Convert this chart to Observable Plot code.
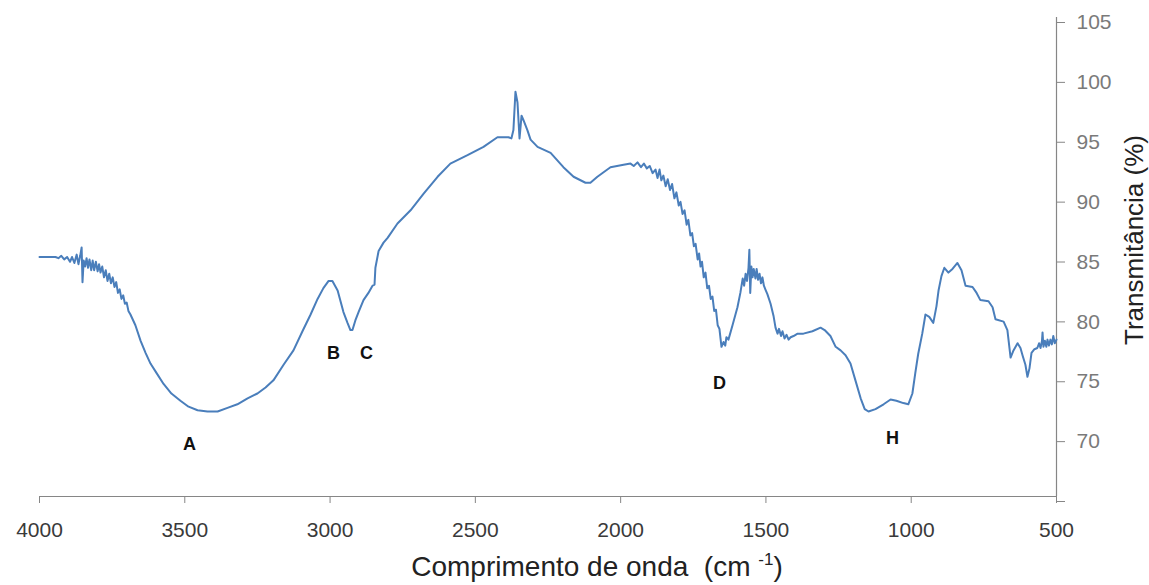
<!DOCTYPE html>
<html>
<head>
<meta charset="utf-8">
<script src="https://cdn.jsdelivr.net/npm/d3@7"></script>
<script src="https://cdn.jsdelivr.net/npm/@observablehq/plot@0.6"></script>
<style>
  html, body { margin: 0; padding: 0; background: #fff; }
  #chart svg { display: block; }
</style>
</head>
<body>
<div id="chart"></div>
<script>
// Wavenumber (cm-1) and transmittance (%)
const wavenumber = [
  4000, 3945, 3935, 3925, 3915, 3905, 3895, 3888, 3880, 3872, 3866, 3860, 3855, 3852, 3848, 3843, 3838, 3833, 3828, 3822,
  3817, 3812, 3806, 3800, 3795, 3790, 3784, 3778, 3772, 3766, 3760, 3754, 3748, 3742, 3736, 3730, 3724, 3718, 3712, 3706,
  3700, 3694, 3687, 3670, 3652, 3635, 3618, 3597, 3573, 3546, 3515, 3487, 3456, 3422, 3387, 3353, 3319, 3284, 3250, 3222,
  3195, 3160, 3126, 3095, 3067, 3043, 3023, 3005, 2992, 2974, 2954, 2940, 2930, 2923, 2913, 2902, 2885, 2868, 2854, 2847,
  2844, 2833, 2816, 2802, 2768, 2723, 2678, 2630, 2586, 2527, 2472, 2424, 2386, 2376, 2369, 2362, 2355, 2348, 2341, 2334,
  2321, 2310, 2286, 2241, 2197, 2162, 2121, 2104, 2080, 2035, 1990, 1966, 1955, 1942, 1930, 1920, 1910, 1900, 1890, 1880,
  1873, 1866, 1860, 1853, 1845, 1838, 1830, 1823, 1815, 1808, 1800, 1794, 1787, 1780, 1773, 1767, 1760, 1754, 1748, 1742,
  1735, 1730, 1725, 1720, 1714, 1708, 1702, 1696, 1690, 1684, 1678, 1672, 1666, 1660, 1653, 1646, 1640, 1636, 1629, 1615,
  1598, 1588, 1580, 1575, 1570, 1565, 1560, 1557, 1554, 1550, 1546, 1542, 1536, 1532, 1527, 1522, 1517, 1512, 1507, 1502,
  1495, 1484, 1474, 1467, 1460, 1455, 1448, 1443, 1436, 1429, 1422, 1415, 1405, 1391, 1371, 1340, 1312, 1298, 1278, 1260,
  1243, 1226, 1209, 1192, 1174, 1160, 1147, 1123, 1095, 1071, 1051, 1027, 1010, 996, 986, 976, 962, 951, 938, 924,
  913, 906, 896, 886, 872, 858, 841, 827, 813, 789, 775, 762, 734, 720, 710, 682, 669, 658, 648, 634,
  624, 617, 607, 600, 593, 586, 576, 566, 560, 555, 550, 548, 545, 540, 535, 531, 526, 521, 516, 511,
  506, 500
];
const transmittance = [
  85.0, 85.0, 84.9, 85.1, 84.8, 85.0, 84.6, 85.0, 84.5, 85.2, 84.4, 85.1, 85.8, 82.9, 84.7, 84.2, 84.9, 84.1, 84.8, 83.9,
  84.7, 83.9, 84.6, 83.8, 84.4, 83.7, 84.2, 83.3, 83.9, 83.0, 83.6, 82.8, 83.3, 82.5, 82.9, 82.0, 82.3, 81.5, 81.8, 81.1,
  81.2, 80.5, 80.2, 79.3, 78.0, 77.0, 76.1, 75.3, 74.4, 73.6, 73.0, 72.5, 72.2, 72.1, 72.1, 72.4, 72.7, 73.2, 73.6, 74.1,
  74.7, 76.0, 77.2, 78.8, 80.2, 81.5, 82.4, 83.0, 83.0, 82.2, 80.4, 79.5, 78.9, 78.9, 79.7, 80.4, 81.4, 82.0, 82.6, 82.7,
  84.1, 85.5, 86.2, 86.6, 87.8, 88.9, 90.3, 91.7, 92.8, 93.5, 94.2, 95.0, 95.0, 94.9, 95.6, 98.8, 97.9, 94.9, 96.8, 96.4,
  95.6, 94.8, 94.2, 93.7, 92.5, 91.7, 91.2, 91.2, 91.7, 92.5, 92.7, 92.8, 92.6, 92.9, 92.5, 92.8, 92.4, 92.6, 92.0, 92.3,
  91.6, 92.3, 91.4, 91.8, 90.9, 91.5, 90.6, 91.1, 89.9, 90.4, 89.3, 89.6, 88.6, 88.9, 87.7, 88.1, 86.8, 87.0, 85.9, 86.1,
  84.8, 85.3, 84.2, 84.6, 83.3, 83.7, 82.4, 82.6, 81.5, 81.7, 80.5, 80.6, 79.3, 79.0, 77.5, 77.9, 77.6, 78.3, 78.1, 79.3,
  80.8, 82.0, 83.2, 82.6, 83.6, 83.0, 84.1, 85.6, 82.0, 84.2, 83.3, 84.0, 83.2, 84.0, 83.1, 83.6, 82.8, 83.3, 82.6, 82.3,
  81.9, 81.1, 80.1, 79.1, 78.6, 79.0, 78.4, 78.8, 78.2, 78.5, 78.1, 78.3, 78.4, 78.6, 78.6, 78.8, 79.1, 78.9, 78.4, 77.5,
  77.2, 76.8, 76.1, 74.7, 73.2, 72.3, 72.1, 72.3, 72.7, 73.1, 73.0, 72.8, 72.7, 73.6, 75.3, 76.9, 78.6, 80.2, 80.0, 79.5,
  80.9, 82.2, 83.4, 84.1, 83.7, 84.0, 84.5, 83.9, 82.6, 82.5, 82.0, 81.4, 81.3, 80.8, 79.8, 79.6, 78.9, 76.6, 77.2, 77.8,
  77.4, 76.8, 76.0, 75.0, 75.7, 77.0, 77.3, 77.4, 77.8, 77.4, 78.0, 78.7, 77.5, 78.0, 77.5, 78.1, 77.6, 78.1, 77.7, 78.4,
  77.8, 78.1
];

// Band labels and where they sit (data coordinates)
const bandNames = ["A", "B", "C", "D", "H"];
const bandWavenumber = [3484, 2988, 2875, 1660, 1064];
const bandTransmittance = [69.4, 77.0, 77.0, 74.5, 69.9];

// Axis ticks
const xTicks = [4000, 3500, 3000, 2500, 2000, 1500, 1000, 500];
const yTicks = [65, 70, 75, 80, 85, 90, 95, 100, 105];

const spectrum = wavenumber.map((w, i) => ({w, t: transmittance[i]}));
const bands = bandNames.map((name, i) => ({name, w: bandWavenumber[i], t: bandTransmittance[i]}));

const axisGray = "#868686";

const chart = Plot.plot({
  width: 1149,
  height: 585,
  marginLeft: 39,
  marginRight: 93,
  marginTop: 17,
  marginBottom: 89,
  style: {fontFamily: "'Liberation Sans', Arial, sans-serif", background: "#fff"},
  x: {domain: [4000, 500]},
  y: {domain: [65, 105]},
  marks: [
    Plot.ruleY([65], {stroke: axisGray, strokeWidth: 1.2}),
    Plot.ruleX([500], {stroke: axisGray, strokeWidth: 1.2}),
    Plot.axisX({
      ticks: xTicks, tickSize: 7, tickPadding: 19, stroke: axisGray, fill: "#3a3a3a",
      fontSize: 21, tickFormat: d => String(d), label: null, letterSpacing: 1.2
    }),
    Plot.axisY({
      anchor: "right", ticks: yTicks, tickSize: 8, tickPadding: 12, stroke: axisGray, fill: "#7a7a7a",
      fontSize: 21, textAnchor: "start", dy: 5, tickFormat: d => d === 65 ? "" : String(d), label: null,
      letterSpacing: 1.5
    }),
    Plot.line(spectrum, {x: "w", y: "t", stroke: "#4a7ebb", strokeWidth: 2, strokeLinejoin: "round"}),
    Plot.text(bands, {x: "w", y: "t", text: "name", fontSize: 18, fontWeight: "bold", fill: "#111"})
  ]
});

// Axis titles
const svg = d3.select(chart);
const xt = svg.append("text")
  .attr("x", 597).attr("y", 576)
  .attr("text-anchor", "middle")
  .attr("font-size", 28)
  .attr("fill", "#222")
  .attr("font-family", "'Liberation Sans', Arial, sans-serif");
xt.append("tspan").text("Comprimento de onda  (cm ");
xt.append("tspan").attr("font-size", 17).attr("dy", -11).text("-1");
xt.append("tspan").attr("dy", 11).text(")");

svg.append("text")
  .attr("transform", "translate(1143,240) rotate(-90)")
  .attr("text-anchor", "middle")
  .attr("font-size", 26)
  .attr("fill", "#222")
  .attr("font-family", "'Liberation Sans', Arial, sans-serif")
  .text("Transmitância (%)");

document.getElementById("chart").appendChild(chart);
</script>
</body>
</html>
